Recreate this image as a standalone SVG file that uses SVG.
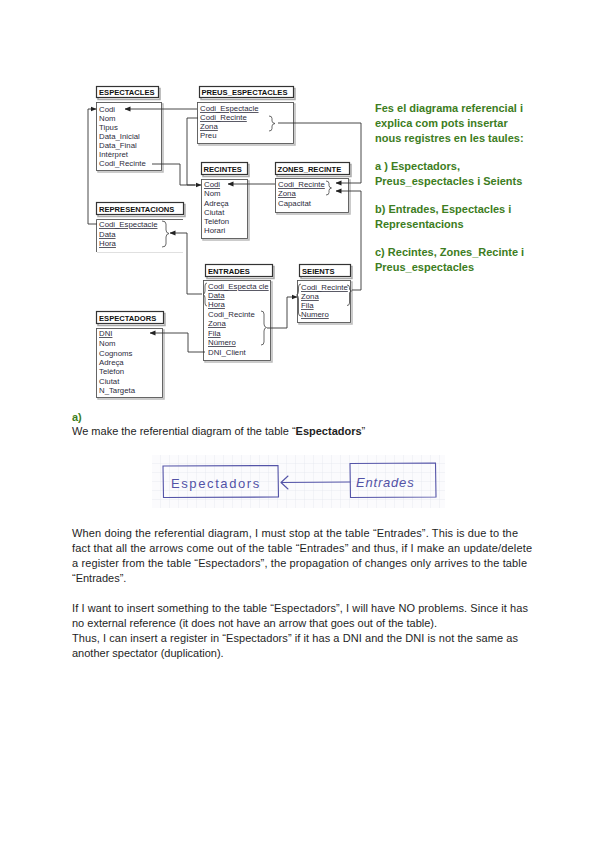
<svg xmlns="http://www.w3.org/2000/svg" width="600" height="848" viewBox="0 0 600 848">
<defs>
<marker id="ah" markerWidth="6" markerHeight="6" refX="5.5" refY="3" orient="auto" markerUnits="userSpaceOnUse"><path d="M0,0.5 L6,3 L0,5.5 z" fill="#222"/></marker>
<pattern id="grid" width="9" height="9" patternUnits="userSpaceOnUse" x="152" y="455"><path d="M9,0 V9 M0,9 H9" fill="none" stroke="#e2e5ec" stroke-width="0.8"/></pattern>
<style>
.hb{fill:#fff;stroke:#333;stroke-width:1.2}
.hs{fill:none;stroke:#aaa;stroke-width:1.5}
.bb{fill:#fff;stroke:#555;stroke-width:0.9}
.bs{fill:none;stroke:#bbb;stroke-width:1.5}
.ht{font-family:"Liberation Sans",Arial,sans-serif;font-size:7.6px;font-weight:bold;fill:#111}
.ft{font-family:"Liberation Sans",Arial,sans-serif;font-size:7.8px;fill:#2c2c3c}
.u{text-decoration:underline}
.cn{fill:none;stroke:#333;stroke-width:0.9}
.br{fill:none;stroke:#444;stroke-width:0.8}
.gt{font-family:"Liberation Sans",Arial,sans-serif;font-size:11px;font-weight:bold;fill:#3d7d22}
.pt{font-family:"Liberation Sans",Arial,sans-serif;font-size:11px;fill:#1e1e1e}
.ink{fill:none;stroke:#5454a8;stroke-width:1.1;stroke-linecap:round}
.hw{font-family:"Liberation Sans",Arial,sans-serif;font-size:13px;fill:#5252a6}
</style>
</defs>
<rect width="600" height="848" fill="#fff"/>

<g id="espectacles">
<rect class="hs" x="98" y="88.5" width="62" height="11"/>
<rect class="hb" x="96.5" y="86.5" width="62" height="11"/>
<text class="ht" x="99" y="95">ESPECTACLES</text>
<rect class="bs" x="98" y="104" width="65" height="68"/>
<rect class="bb" x="96.5" y="102.5" width="65" height="68"/>
<text class="ft" x="99" y="112">Codi</text>
<text class="ft" x="99" y="121">Nom</text>
<text class="ft" x="99" y="130">Tipus</text>
<text class="ft" x="99" y="139">Data_Inicial</text>
<text class="ft" x="99" y="148">Data_Final</text>
<text class="ft" x="99" y="157">Intèrpret</text>
<text class="ft" x="99" y="166">Codi_Recinte</text>
</g>

<g id="preus_espectacles">
<rect class="hs" x="201" y="88.5" width="94" height="11"/>
<rect class="hb" x="199.5" y="86.5" width="94" height="11"/>
<text class="ht" x="201.5" y="95">PREUS_ESPECTACLES</text>
<rect class="bs" x="199" y="104" width="96" height="41"/>
<rect class="bb" x="197.5" y="102.5" width="96" height="41"/>
<text class="ft u" x="200" y="111">Codi_Espectacle</text>
<text class="ft u" x="200" y="120">Codi_Recinte</text>
<text class="ft u" x="200" y="129">Zona</text>
<text class="ft" x="200" y="138">Preu</text>
<path class="br" d="M269,116 q3,0 3,2.5 v2.5 q0,2 3,2.5 q-3,0.5 -3,2.5 v2.5 q0,2.5 -3,2.5"/>
</g>

<g id="recintes">
<rect class="hs" x="203" y="164.5" width="46" height="12"/>
<rect class="hb" x="201.5" y="162.5" width="46" height="12"/>
<text class="ht" x="203.5" y="171.5">RECINTES</text>
<rect class="bs" x="203" y="181" width="46" height="59"/>
<rect class="bb" x="201.5" y="179.5" width="46" height="59"/>
<text class="ft u" x="204" y="187">Codi</text>
<text class="ft" x="204" y="196">Nom</text>
<text class="ft" x="204" y="206">Adreça</text>
<text class="ft" x="204" y="215">Ciutat</text>
<text class="ft" x="204" y="224">Telèfon</text>
<text class="ft" x="204" y="233">Horari</text>
</g>

<g id="zones_recinte">
<rect class="hs" x="277" y="164.5" width="74" height="12"/>
<rect class="hb" x="275.5" y="162.5" width="74" height="12"/>
<text class="ht" x="277.5" y="171.5">ZONES_RECINTE</text>
<rect class="bs" x="277" y="180" width="73" height="34"/>
<rect class="bb" x="275.5" y="178.5" width="73" height="34"/>
<text class="ft u" x="278" y="187">Codi_Recinte</text>
<text class="ft u" x="278" y="196">Zona</text>
<text class="ft" x="278" y="206">Capacitat</text>
<path class="br" d="M326,181 q3,0 3,2.5 v2 q0,2 2.5,2.5 q-2.5,0.5 -2.5,2.5 v2 q0,2.5 -3,2.5"/>
</g>

<g id="representacions">
<rect class="hs" x="98" y="204.5" width="87" height="12"/>
<rect class="hb" x="96.5" y="202.5" width="87" height="12"/>
<text class="ht" x="99" y="211.5">REPRESENTACIONS</text>
<path d="M96.5,252 V219.5 H183" fill="none" stroke="#555" stroke-width="0.9"/>
<path d="M97,252.5 H183" fill="none" stroke="#ddd" stroke-width="0.9"/>
<text class="ft u" x="99" y="227">Codi_Espectacle</text>
<text class="ft u" x="99" y="237">Data</text>
<text class="ft u" x="99" y="246">Hora</text>
<path class="br" d="M162,221 q4,0 4,3 v6 q0,3 3,3.5 q-3,0.5 -3,3.5 v7 q0,3 -4,3"/>
</g>

<g id="entrades">
<rect class="hs" x="207" y="266.5" width="67" height="12"/>
<rect class="hb" x="205.5" y="264.5" width="67" height="12"/>
<text class="ht" x="208" y="273.5">ENTRADES</text>
<rect class="bs" x="205" y="282" width="67" height="80"/>
<rect class="bb" x="203.5" y="280.5" width="67" height="80"/>
<text class="ft u" x="208" y="289">Codi_Especta cle</text>
<text class="ft u" x="208" y="298">Data</text>
<text class="ft u" x="208" y="307">Hora</text>
<text class="ft" x="208" y="317">Codi_Recinte</text>
<text class="ft u" x="208" y="326">Zona</text>
<text class="ft u" x="208" y="336">Fila</text>
<text class="ft u" x="208" y="345">Número</text>
<text class="ft" x="208" y="355">DNI_Client</text>
<path class="br" d="M207,283 q-2,0 -2,3 v5 q0,3 -2,3.5 q2,0.5 2,3.5 v5 q0,3 2,3"/>
<path class="br" d="M261,311 q3,0 3,3 v10 q0,3 2.5,3.5 q-2.5,0.5 -2.5,3.5 v11 q0,3 -3,3"/>
</g>

<g id="seients">
<rect class="hs" x="301" y="266.5" width="51" height="12"/>
<rect class="hb" x="299.5" y="264.5" width="51" height="12"/>
<text class="ht" x="302" y="273.5">SEIENTS</text>
<rect class="bs" x="299" y="282" width="53" height="42"/>
<rect class="bb" x="297.5" y="280.5" width="53" height="42"/>
<text class="ft u" x="301" y="290">Codi_Recinte</text>
<text class="ft u" x="301" y="299">Zona</text>
<text class="ft u" x="301" y="308">Fila</text>
<text class="ft u" x="301" y="317">Numero</text>
<path class="br" d="M301,284 q-2.5,0 -2.5,3 v4 q0,3 -2,4 q2,1 2,4 v14 q0,3 2.5,3"/>
<path class="br" d="M347,285 q2.5,0 2.5,2.5 v1.5 q0,1.5 2,2 q-2,0.5 -2,2 v10 q0,2.5 -2.5,2.5"/>
</g>

<g id="espectadors">
<rect class="hs" x="98" y="313.5" width="67" height="12"/>
<rect class="hb" x="96.5" y="311.5" width="67" height="12"/>
<text class="ht" x="99" y="320.5">ESPECTADORS</text>
<rect class="bs" x="98" y="330" width="66" height="69"/>
<rect class="bb" x="96.5" y="328.5" width="66" height="69"/>
<text class="ft u" x="99" y="336">DNI</text>
<text class="ft" x="99" y="346">Nom</text>
<text class="ft" x="99" y="356">Cognoms</text>
<text class="ft" x="99" y="365">Adreça</text>
<text class="ft" x="99" y="374">Telèfon</text>
<text class="ft" x="99" y="384">Ciutat</text>
<text class="ft" x="99" y="393">N_Targeta</text>
</g>

<g id="connectors">
<path class="cn" d="M197,109 H125" marker-end="url(#ah)"/>
<path class="cn" d="M97,224 H88 V109 H96" marker-end="url(#ah)"/>
<path class="cn" d="M198,118 H187 V185 H201" marker-end="url(#ah)"/>
<path class="cn" d="M152,164 H180 V185 H195"/>
<path class="cn" d="M275,184 H228" marker-end="url(#ah)"/>
<path class="cn" d="M278,123 H361 V183 H336" marker-end="url(#ah)"/>
<path class="cn" d="M352,290 H361 V191 H336" marker-end="url(#ah)"/>
<path class="cn" d="M202,294 H187 V233 H170" marker-end="url(#ah)"/>
<path class="cn" d="M267,328 H287 V297 H297" marker-end="url(#ah)"/>
<path class="cn" d="M205,352 H188 V333 H150" marker-end="url(#ah)"/>
</g>

<g id="question">
<text class="gt" x="375" y="112">Fes el diagrama referencial i</text>
<text class="gt" x="375" y="127">explica com pots insertar</text>
<text class="gt" x="375" y="142">nous registres en les taules:</text>
<text class="gt" x="375" y="170">a ) Espectadors,</text>
<text class="gt" x="375" y="185">Preus_espectacles i Seients</text>
<text class="gt" x="375" y="213">b) Entrades, Espectacles i</text>
<text class="gt" x="375" y="228">Representacions</text>
<text class="gt" x="375" y="256">c) Recintes, Zones_Recinte i</text>
<text class="gt" x="375" y="271">Preus_espectacles</text>
</g>

<g id="answer-a">
<text class="gt" x="72" y="421">a)</text>
<text class="pt" x="72" y="435">We make the referential diagram of the table “<tspan font-weight="bold">Espectadors</tspan>”</text>
</g>

<g id="sketch">
<rect x="152" y="455" width="293" height="53" fill="#fbfbfd"/>
<rect x="152" y="455" width="293" height="53" fill="url(#grid)"/>
<path class="ink" d="M163,466 L278,465.5 L278.5,497 L163.5,497.5 Z"/>
<path class="ink" d="M350,463.5 L435.5,463 L436,497 L350.5,497.5 Z"/>
<path class="ink" d="M350,482 L281,482.5 M281,482.5 L288,476 M281,482.5 L288,489"/>
<text class="hw" x="171" y="488" letter-spacing="1.6">Espectadors</text>
<text class="hw" x="356" y="487" font-style="italic" font-size="12" letter-spacing="0.8">Entrades</text>
</g>

<g id="answer-text">
<text class="pt" x="72" y="537" textLength="446">When doing the referential diagram, I must stop at the table “Entrades”. This is due to the</text>
<text class="pt" x="72" y="552" textLength="460">fact that all the arrows come out of the table “Entrades” and thus, if I make an update/delete</text>
<text class="pt" x="72" y="567" textLength="455">a register from the table “Espectadors”, the propagation of changes only arrives to the table</text>
<text class="pt" x="72" y="582">“Entrades”.</text>
<text class="pt" x="72" y="612" textLength="456">If I want to insert something to the table “Espectadors”, I will have NO problems. Since it has</text>
<text class="pt" x="72" y="627">no external reference (it does not have an arrow that goes out of the table).</text>
<text class="pt" x="72" y="642" textLength="446">Thus, I can insert a register in “Espectadors” if it has a DNI and the DNI is not the same as</text>
<text class="pt" x="72" y="657">another spectator (duplication).</text>
</g>
</svg>
